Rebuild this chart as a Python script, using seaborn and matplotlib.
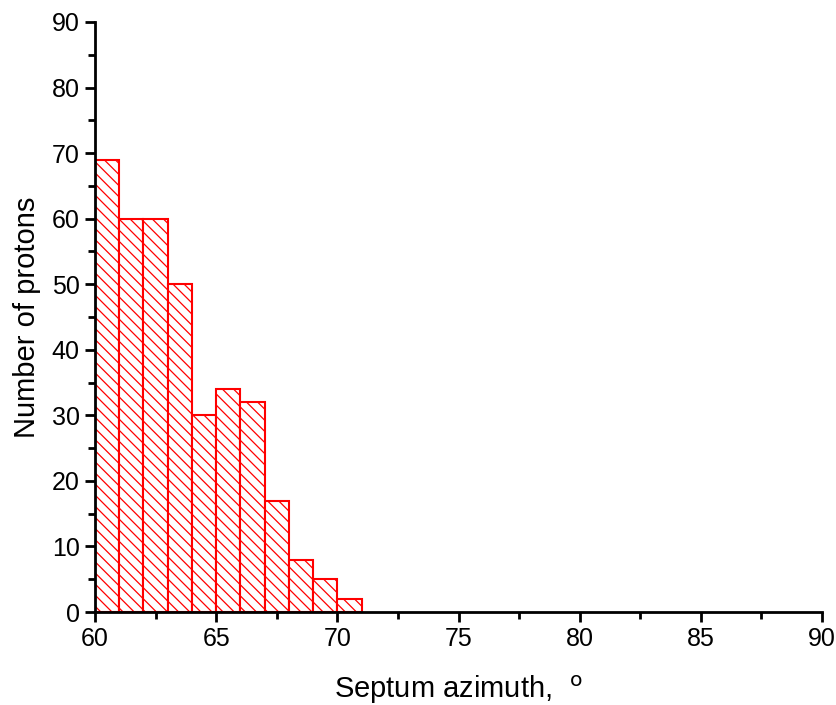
import numpy as np
import matplotlib
matplotlib.use("Agg")
import matplotlib.pyplot as plt
import seaborn as sns
from matplotlib.ticker import MultipleLocator

# bin left edges and counts
bin_left = [60, 61, 62, 63, 64, 65, 66, 67, 68, 69, 70]
counts = [69, 60, 60, 50, 30, 34, 32, 17, 8, 5, 2]
bin_edges = list(range(60, 72))

sns.set_style("ticks")
plt.rcParams['font.family'] = ['Liberation Sans', 'DejaVu Sans']
plt.rcParams['text.color'] = 'black'
plt.rcParams['axes.labelcolor'] = 'black'
plt.rcParams['hatch.color'] = 'red'
plt.rcParams['hatch.linewidth'] = 0.9

fig = plt.figure(figsize=(8.37, 7.05), dpi=100)
ax = fig.add_axes([95 / 837, 1 - 612 / 705, (822 - 95) / 837, (612 - 22) / 705])

sns.histplot(x=np.array(bin_left) + 0.5, weights=counts, bins=bin_edges, ax=ax,
             stat='count', fill=True, facecolor='white', edgecolor='red',
             linewidth=1.5, hatch='\\\\\\', alpha=1)

ax.set_xlim(60, 90)
ax.set_ylim(0, 90)
ax.xaxis.set_major_locator(MultipleLocator(5))
ax.xaxis.set_minor_locator(MultipleLocator(2.5))
ax.yaxis.set_major_locator(MultipleLocator(10))
ax.yaxis.set_minor_locator(MultipleLocator(5))
ax.tick_params(which='major', direction='out', length=7, width=2, labelsize=18,
               colors='black', labelcolor='black', pad=4)
ax.tick_params(which='minor', direction='out', length=5, width=2, colors='black')
for s in ['left', 'bottom']:
    ax.spines[s].set_linewidth(2)
    ax.spines[s].set_color('black')
sns.despine(ax=ax)

ax.set_ylabel('Number of protons', fontsize=21, labelpad=8)
ax.set_xlabel(r'Septum azimuth,  $^{\mathrm{o}}$', fontsize=21, labelpad=16)

fig.savefig('out.png', dpi=100)
